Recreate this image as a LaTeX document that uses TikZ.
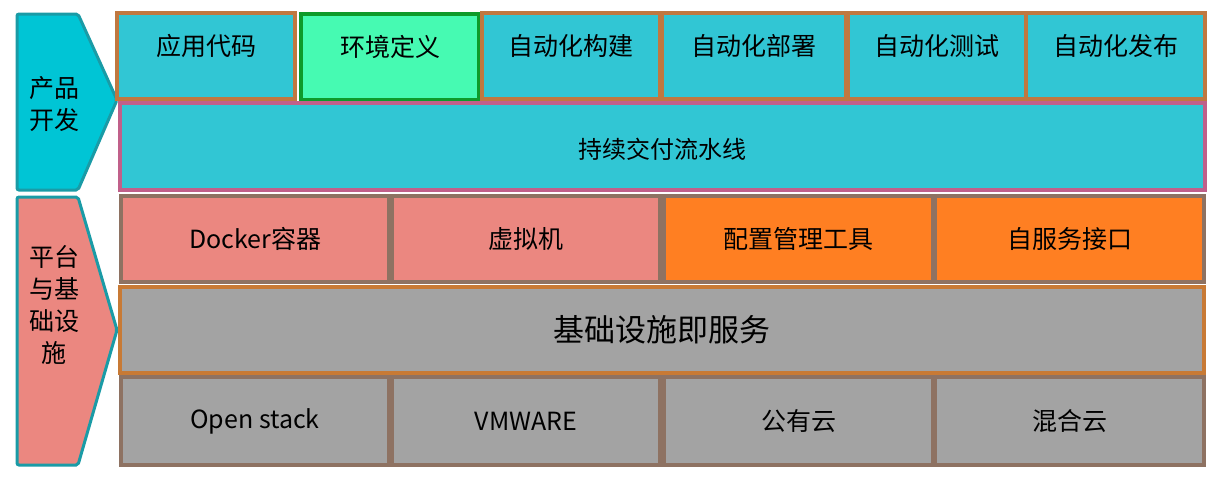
\documentclass[tikz,border=0pt]{standalone}
\usepackage{fontspec}
\setmainfont{Noto Sans CJK SC}
\definecolor{cyanf}{HTML}{31C6D4}
\definecolor{arrcyan}{HTML}{00C5D5}
\definecolor{arrbrd}{HTML}{1A9BA6}
\definecolor{topbrd}{HTML}{C07840}
\definecolor{greenf}{HTML}{46FAB2}
\definecolor{greenb}{HTML}{0E9A2A}
\definecolor{pinkb}{HTML}{C0608A}
\definecolor{salmonf}{HTML}{EB8780}
\definecolor{orangef}{HTML}{FF7F22}
\definecolor{grayf}{HTML}{A3A3A3}
\definecolor{graybrd}{HTML}{8E7262}
\definecolor{iaasbrd}{HTML}{C87A35}
\begin{document}
\begin{tikzpicture}[x=1pt,y=-1pt,
  base/.style={line width=3.2pt, inner sep=0pt, outer sep=0pt},
  topbox/.style={base, draw=topbrd, fill=cyanf, minimum height=86pt},
  envbox/.style={base, draw=greenb, fill=greenf, minimum height=86pt},
  pipebox/.style={base, draw=pinkb, fill=cyanf},
  redbox/.style={base, draw=graybrd, fill=salmonf, minimum height=86pt},
  orbox/.style={base, draw=graybrd, fill=orangef, minimum height=86pt},
  iaasbox/.style={base, draw=iaasbrd, fill=grayf},
  graybox/.style={base, draw=graybrd, fill=grayf, minimum height=88pt},
  arrow shape/.style={line width=3pt, draw=arrbrd, rounded corners=2pt},
  txt/.style={font=\fontsize{25}{30}\selectfont},
  sidetxt/.style={align=center, font=\fontsize{25}{32}\selectfont}
]
\useasboundingbox (0,0) rectangle (1218,480);

% left arrows
\draw[arrow shape, fill=arrcyan] (17,14) -- (78,14) -- (117,100) -- (78,190) -- (17,190) -- cycle;
\node[sidetxt] (dev) at (54,104) {产品\\开发};
\draw[arrow shape, fill=salmonf] (17,197) -- (78,197) -- (117,330) -- (78,465) -- (17,465) -- cycle;
\node[sidetxt] (plat) at (54,305) {平台\\与基\\础设\\施};

% top row
\node[topbox, minimum width=178pt] (a1) at (206,56) {};
\node[envbox, minimum width=178pt] (a2) at (390,57) {};
\node[topbox, minimum width=178pt] (a3) at (571,56) {};
\node[topbox, minimum width=184pt] (a4) at (754,56) {};
\node[topbox, minimum width=178pt] (a5) at (937,56) {};
\node[topbox, minimum width=179pt] (a6) at (1115.5,56) {};
\node[txt] (t1) at (206,46) {应用代码};
\node[txt] (t2) at (390,47) {环境定义};
\node[txt] (t3) at (571,46) {自动化构建};
\node[txt] (t4) at (754,46) {自动化部署};
\node[txt] (t5) at (937,46) {自动化测试};
\node[txt] (t6) at (1115.5,46) {自动化发布};

% pipeline
\node[pipebox, minimum width=1085pt, minimum height=87pt] (pipe) at (662.5,146.5) {};
\node[font=\fontsize{24}{28}\selectfont] (pipet) at (662.5,149) {持续交付流水线};

% row 2
\node[redbox, txt, minimum width=268pt] (b1) at (255,239) {Docker容器};
\node[redbox, txt, minimum width=268pt] (b2) at (526,239) {虚拟机};
\node[orbox, txt, minimum width=269pt] (b3) at (798.5,239) {配置管理工具};
\node[orbox, txt, minimum width=269pt] (b4) at (1069.5,239) {自服务接口};

% IaaS
\node[iaasbox, minimum width=1084pt, minimum height=86pt, font=\fontsize{31}{36}\selectfont] (iaas) at (662,330) {基础设施即服务};

% row 3
\node[graybox, txt, minimum width=268pt] (c1) at (255,421) {Open stack};
\node[graybox, txt, minimum width=268pt] (c2) at (526,421) {VMWARE};
\node[graybox, txt, minimum width=269pt] (c3) at (798.5,421) {公有云};
\node[graybox, txt, minimum width=269pt] (c4) at (1069.5,421) {混合云};
\end{tikzpicture}
\end{document}
